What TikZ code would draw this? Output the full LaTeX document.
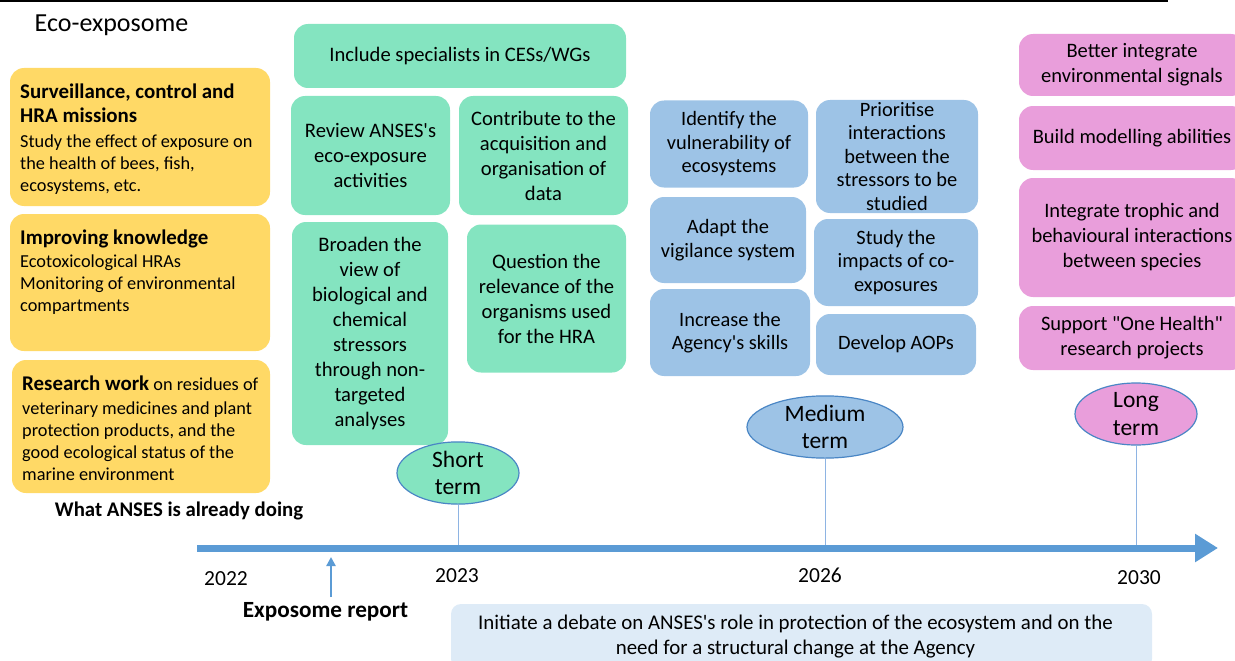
\documentclass[tikz,border=0pt]{standalone}
\usepackage{fontspec}
\setmainfont{Carlito}
\usetikzlibrary{arrows.meta,shapes.geometric}
\definecolor{ylw}{HTML}{FFD966}
\definecolor{grn}{HTML}{84E4C0}
\definecolor{blu}{HTML}{9DC3E6}
\definecolor{pnk}{HTML}{E99EDB}
\definecolor{axisblue}{HTML}{5B9BD5}
\definecolor{edgeblue}{HTML}{4A86C5}
\definecolor{tickblue}{HTML}{8EB4E3}
\definecolor{palebl}{HTML}{DEEBF7}
\newcommand{\fsz}[2]{\fontsize{#1}{#2}\selectfont}
\newcommand{\q}{\textquotesingle}
\tikzset{
  rbox/.style={rounded corners=14pt, inner sep=0pt, align=center, draw=none},
  gbox/.style={rbox, fill=grn, font=\fsz{20.6}{25}},
  bbox/.style={rbox, fill=blu, font=\fsz{20.4}{23.5}},
  pbox/.style={rbox, fill=pnk, font=\fsz{20.5}{25}},
  ybox/.style={rbox, fill=ylw},
  ytext/.style={anchor=west, align=left, inner sep=0pt, font=\fsz{18.3}{22}},
  term/.style={ellipse, draw=edgeblue, line width=1.2pt, inner sep=0pt, align=center, font=\fsz{23.5}{27.5}},
  year/.style={inner sep=0pt, font=\fsz{21.5}{26}},
  tick/.style={draw=tickblue, line width=0.8pt},
}
\begin{document}
\begin{tikzpicture}[x=1pt,y=-1pt]
\useasboundingbox (0,0) rectangle (1235,661);
\clip (0,0) rectangle (1235,661);
% top rule
\coordinate (tl) at (0,1);
\coordinate (tr) at (1168,1);
\draw[line width=2pt] (tl) -- (tr);
\node[inner sep=0pt, font=\fsz{26}{31}] (title) at (111.5,25) {Eco-exposome};

% yellow column
\node[ybox, minimum width=260pt, minimum height=138pt] (y1) at (140,137) {};
\node[ytext] (y1t) at (20,139.5) {{\fsz{20.9}{24}\bfseries Surveillance, control and}\\[2pt]
{\fsz{20.9}{24}\bfseries HRA missions}\\[3pt]
Study the effect of exposure on\\
the health of bees, fish,\\
ecosystems, etc.};
\node[ybox, minimum width=260pt, minimum height=137pt] (y2) at (140,282.5) {};
\node[ytext] (y2t) at (20,272) {{\fsz{20.9}{24}\bfseries Improving knowledge}\\[1pt]
Ecotoxicological HRAs\\
Monitoring of environmental\\
compartments};
\node[ybox, minimum width=258pt, minimum height=133pt] (y3) at (141,426.5) {};
\node[ytext] (y3t) at (22,428) {{\fsz{20.9}{24}\bfseries Research work} on residues of\\[2pt]
veterinary medicines and plant\\
protection products, and the\\
good ecological status of the\\
marine environment};
\node[inner sep=0pt, font=\fsz{20.8}{25}\bfseries] (doing) at (179,511) {What ANSES is already doing};

% green column
\node[gbox, minimum width=332pt, minimum height=64pt] (inc) at (460,56) {Include specialists in CESs/WGs};
\node[gbox, minimum width=159pt, minimum height=119pt] (rev) at (370.5,155.5) {Review ANSES\q s\\eco-exposure\\activities};
\node[gbox, minimum width=169pt, minimum height=119pt] (con) at (543.5,155.5) {Contribute to the\\acquisition and\\organisation of\\data};
\node[gbox, minimum width=156pt, minimum height=223pt] (bro) at (370,333.5) {Broaden the\\view of\\biological and\\chemical\\stressors\\through non-\\targeted\\analyses};
\node[gbox, minimum width=159pt, minimum height=148pt] (que) at (546.5,298.5) {Question the\\relevance of the\\organisms used\\for the HRA};
\node[term, fill=grn, minimum width=122pt, minimum height=53pt] (st) at (458,473) {Short\\term};

% blue column
\node[bbox, minimum width=158pt, minimum height=87pt] (ide) at (729,144) {Identify the\\vulnerability of\\ecosystems};
\node[bbox, minimum width=162pt, minimum height=113pt] (pri) at (897,156.5) {Prioritise\\interactions\\between the\\stressors to be\\studied};
\node[bbox, minimum width=156pt, minimum height=86pt] (ada) at (728,240) {Adapt the\\vigilance system};
\node[bbox, minimum width=164pt, minimum height=87pt] (stu) at (896,262.5) {Study the\\impacts of co-\\exposures};
\node[bbox, minimum width=160pt, minimum height=87pt] (skl) at (730,332.5) {Increase the\\Agency\q s skills};
\node[bbox, minimum width=160pt, minimum height=61pt] (aop) at (896,344.5) {Develop AOPs};
\node[term, fill=blu, minimum width=156pt, minimum height=62pt] (mt) at (825,427) {Medium\\term};

% pink column
\node[pbox, minimum width=226pt, minimum height=62pt] (bet) at (1132,65) {Better integrate\\environmental signals};
\node[pbox, minimum width=226pt, minimum height=64pt] (bui) at (1132,138) {Build modelling abilities};
\node[pbox, minimum width=226pt, minimum height=119pt] (itg) at (1132,237.5) {Integrate trophic and\\behavioural interactions\\between species};
\node[pbox, minimum width=226pt, minimum height=64pt] (sup) at (1132,338) {Support \textquotedbl One Health\textquotedbl\\research projects};
\node[term, fill=pnk, minimum width=122pt, minimum height=62pt] (lt) at (1136,414) {Long\\term};

% time axis
\coordinate (axs) at (197,548);
\coordinate (axe) at (1218,548);
\draw[tick] (st.south) -- (st.south |- axs);
\draw[tick] (mt.south) -- (mt.south |- axs);
\draw[tick] (lt.south) -- (lt.south |- axs);
\draw[axisblue, line width=7pt, -{Triangle[length=23pt,width=27pt]}] (axs) -- (axe);

\node[year] (y2022) at (226,579) {2022};
\node[year] (y2023) at (457,576) {2023};
\node[year] (y2026) at (820,575) {2026};
\node[year] (y2030) at (1139,578) {2030};

\node[inner sep=0pt, font=\fsz{23.2}{28}\bfseries] (rep) at (325.5,612) {Exposome report};
\coordinate (repB) at (331,597);
\coordinate (repT) at (331,557);
\draw[axisblue, line width=2.5pt, -{Triangle[length=9pt,width=9pt]}] (repB) -- (repT);

\node[rbox, rounded corners=10pt, fill=palebl, minimum width=701pt, minimum height=65pt, font=\fsz{20.9}{25}] (deb) at (801.5,636.5) {Initiate a debate on ANSES\q s role in protection of the ecosystem and on the\hspace*{12pt}\\need for a structural change at the Agency\hspace*{12pt}};
\end{tikzpicture}
\end{document}
